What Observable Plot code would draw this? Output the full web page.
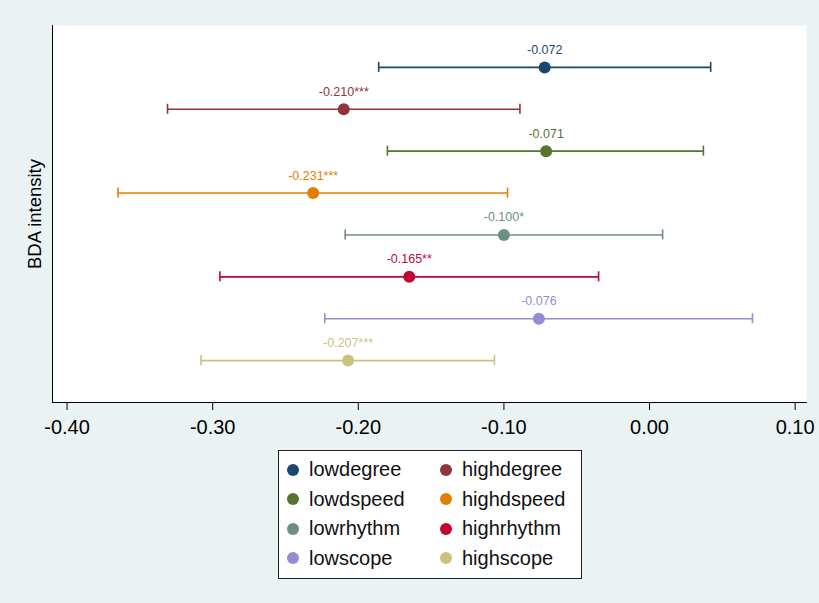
<!DOCTYPE html>
<html>
<head>
<meta charset="utf-8">
<script src="https://cdn.jsdelivr.net/npm/d3@7"></script>
<script src="https://cdn.jsdelivr.net/npm/@observablehq/plot@0.6"></script>
<style>
  html, body { margin: 0; padding: 0; background: #eaf2f3; }
  #wrap { position: relative; width: 819px; height: 603px; background: #eaf2f3; font-family: Arial, "Liberation Sans", sans-serif; }
  #legend { position: absolute; left: 278px; top: 450px; width: 302px; height: 123px; background: #fff; border: 1px solid #222;
            display: grid; grid-template-columns: 153px 147px; grid-auto-rows: 29.5px; padding-top: 4px; box-sizing: content-box; }
  .item { display: flex; align-items: center; font-size: 20px; color: #111; white-space: nowrap; }
  .sw { width: 12px; height: 12px; border-radius: 50%; margin-left: 8px; margin-right: 10px; flex: none; }
</style>
</head>
<body>
<div id="wrap"><div id="chart"></div><div id="legend"></div></div>
<script>
const groups = ["lowdegree","highdegree","lowdspeed","highdspeed","lowrhythm","highrhythm","lowscope","highscope"];
const estimates = [-0.072, -0.210, -0.071, -0.231, -0.100, -0.165, -0.076, -0.207];
const lower = [-0.186, -0.331, -0.180, -0.365, -0.209, -0.295, -0.223, -0.308];
const upper = [0.042, -0.089, 0.037, -0.0975, 0.009, -0.035, 0.0707, -0.1065];
const labels = ["-0.072","-0.210***","-0.071","-0.231***","-0.100*","-0.165**","-0.076","-0.207***"];
const colors = ["#1a476f","#90353b","#55752f","#e37e00","#6e8e84","#c10534","#938dd2","#cac27e"];
const xTicks = [-0.4, -0.3, -0.2, -0.1, 0.0, 0.1];

const data = groups.map((g, i) => ({g, i: i + 1, est: estimates[i], lo: lower[i], hi: upper[i], label: labels[i], color: colors[i]}));
const capHalf = 0.12;

const chart = Plot.plot({
  width: 819,
  height: 440,
  marginLeft: 52,
  marginRight: 13,
  marginTop: 25,
  marginBottom: 38,
  style: {fontFamily: "Arial, 'Liberation Sans', sans-serif", background: "transparent"},
  x: {domain: [-0.41, 0.1078]},
  y: {domain: [9, 0], axis: null},
  marks: [
    Plot.frame({fill: "#fff", stroke: null}),
    Plot.ruleY(data, {x1: "lo", x2: "hi", y: "i", stroke: "color", strokeWidth: 1.6}),
    Plot.ruleX(data, {x: "lo", y1: d => d.i - capHalf, y2: d => d.i + capHalf, stroke: "color", strokeWidth: 1.6}),
    Plot.ruleX(data, {x: "hi", y1: d => d.i - capHalf, y2: d => d.i + capHalf, stroke: "color", strokeWidth: 1.6}),
    Plot.dot(data, {x: "est", y: "i", r: 6, fill: "color", stroke: null}),
    Plot.text(data, {x: "est", y: "i", text: "label", fill: "color", dy: -17.5, fontSize: 12.5}),
    Plot.axisX({ticks: xTicks, tickSize: 8, tickPadding: 9, fontSize: 20, label: null, color: "#000", tickFormat: d => d3.format(".2f")(d).replace("−","-")}),
    Plot.frame({anchor: "bottom", stroke: "#000"}),
    Plot.frame({anchor: "left", stroke: "#000"}),
    Plot.text(["BDA intensity"], {frameAnchor: "left", textAnchor: "middle", dx: -17, rotate: -90, fontSize: 18.5, fill: "#000"})
  ]
});
document.getElementById("chart").appendChild(chart);

const legend = document.getElementById("legend");
groups.forEach((g, k) => {
  const div = document.createElement("div");
  div.className = "item";
  div.innerHTML = `<span class="sw" style="background:${colors[k]}"></span><span>${g}</span>`;
  legend.appendChild(div);
});
</script>
</body>
</html>
